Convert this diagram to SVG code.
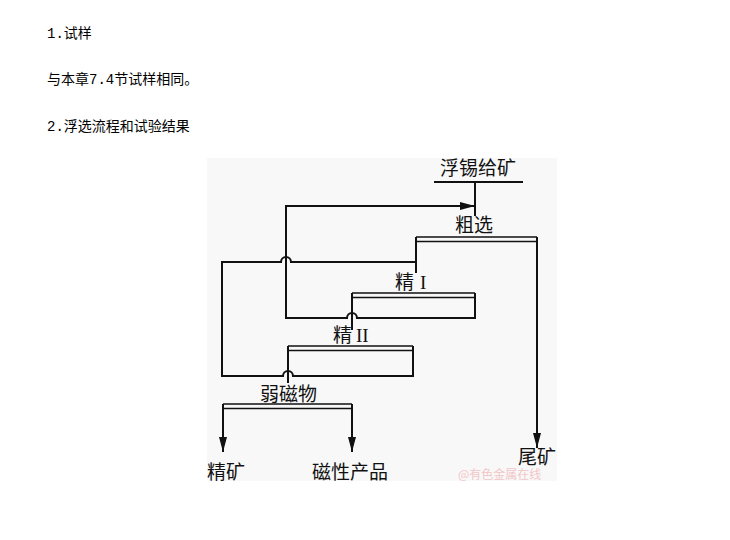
<svg xmlns="http://www.w3.org/2000/svg" width="730" height="540" viewBox="0 0 730 540">
<style>
.t{font-family:"Noto Sans CJK SC","Liberation Sans",sans-serif;font-size:14px;fill:#000}
.m{font-family:"Liberation Mono",monospace}
.l{font-family:"Noto Sans CJK SC","Liberation Serif",serif;font-size:19px;fill:#111}
.r{font-family:"Liberation Serif",serif;font-size:19px;fill:#111}
.w{stroke:#111;stroke-width:2;fill:none}
.d{stroke:#111;stroke-width:1.6;fill:none}
.wm{font-family:"Noto Sans CJK SC",sans-serif;font-size:12px;fill:#f2c6c6}
</style>
<defs>
<marker id="ah" markerUnits="userSpaceOnUse" markerWidth="16" markerHeight="8" refX="15" refY="4" orient="auto">
<path d="M0,0 L15,4 L0,8 z" fill="#111"/>
</marker>
</defs>
<rect width="730" height="540" fill="#fff"/>
<text class="t" x="47" y="38"><tspan class="m">1.</tspan>试样</text>
<text class="t" x="47" y="84">与本章<tspan class="m">7.4</tspan>节试样相同。</text>
<text class="t" x="47" y="131"><tspan class="m">2.</tspan>浮选流程和试验结果</text>
<rect x="207" y="158" width="350" height="323" fill="#f8f8f8"/>
<g id="feed">
<text class="l" x="440" y="175">浮锡给矿</text>
<line class="w" x1="434" y1="182" x2="523" y2="182"/>
</g>
<g id="rougher">
<text class="l" x="455" y="232">粗选</text>
<line class="d" x1="416" y1="237" x2="537" y2="237"/>
<line class="d" x1="416" y1="241.5" x2="537" y2="241.5"/>
</g>
<g id="cleaner1">
<text class="l" x="395" y="289">精</text><text class="r" x="420" y="289">I</text>
<line class="d" x1="352" y1="293" x2="475" y2="293"/>
<line class="d" x1="352" y1="297.5" x2="475" y2="297.5"/>
</g>
<g id="cleaner2">
<text class="l" x="333" y="342">精</text><text class="r" x="356" y="342">II</text>
<line class="d" x1="288" y1="346" x2="413" y2="346"/>
<line class="d" x1="288" y1="350.5" x2="413" y2="350.5"/>
</g>
<g id="magnetic">
<text class="l" x="260" y="401">弱磁物</text>
<line class="d" x1="223" y1="404" x2="352" y2="404"/>
<line class="d" x1="223" y1="408.5" x2="352" y2="408.5"/>
</g>
<g id="products">
<text class="l" x="207" y="479">精矿</text>
<text class="l" x="312" y="479">磁性产品</text>
<text class="l" x="518" y="464">尾矿</text>
</g>
<g id="connectors">
<line class="w" x1="475" y1="182" x2="475" y2="216"/>
<path class="w" d="M475,293 V318 H357 A5,5 0 0 0 347,318 H286 V206 H475" marker-end="url(#ah)"/>
<path class="w" d="M537,237 V448" marker-end="url(#ah)"/>
<path class="w" d="M416,237 V273"/>
<path class="w" d="M352,293 V330"/>
<path class="w" d="M413,346 V376 H293 A5,5 0 0 0 283,376 H222 V262 H281 A5,5 0 0 1 291,262 H416"/>
<path class="w" d="M288,346 V383"/>
<path class="w" d="M223,404 V452" marker-end="url(#ah)"/>
<path class="w" d="M352,404 V452" marker-end="url(#ah)"/>
</g>
<text class="wm" x="458" y="479">@有色金属在线</text>
</svg>
